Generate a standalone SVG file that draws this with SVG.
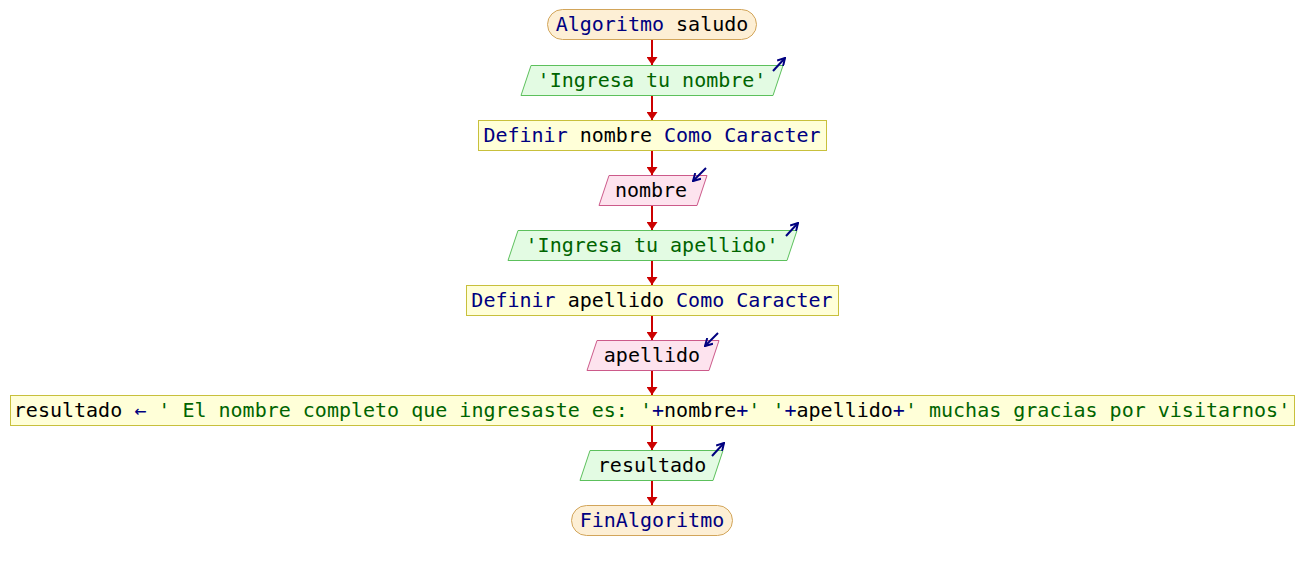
<svg xmlns="http://www.w3.org/2000/svg" width="1304" height="570" viewBox="0 0 1304 570">
  <defs>
    <marker id="ah" viewBox="0 0 10 10" refX="10" refY="5" markerWidth="4" markerHeight="5.5" orient="auto" markerUnits="strokeWidth" preserveAspectRatio="none">
      <path d="M0,0 L10,5 L0,10 z" fill="#cc0000"/>
    </marker>
    <marker id="io" viewBox="0 0 10 10" refX="9" refY="5" markerWidth="4.5" markerHeight="4.5" orient="auto" markerUnits="strokeWidth">
      <path d="M1,0.5 L9,5 L1,9.5" fill="none" stroke="#000080" stroke-width="2.2" stroke-linejoin="miter"/>
    </marker>
    <style>
      text { font-family: "DejaVu Sans Mono", "Liberation Mono", monospace; font-size: 20px; text-anchor: middle; fill: #000000; }
      .kw { fill: #000080; }
      .str { fill: #006400; }
      .term { fill: #fdefd5; stroke: #d2a55a; stroke-width: 1; }
      .out { fill: #e3fbe3; stroke: #5cc05c; stroke-width: 1; }
      .in { fill: #fde3ee; stroke: #cc5a8a; stroke-width: 1; }
      .proc { fill: #ffffd8; stroke: #c8c03c; stroke-width: 1; }
      .flow { stroke: #cc0000; stroke-width: 2; fill: none; marker-end: url(#ah); }
      .icon { stroke: #000080; stroke-width: 2; fill: none; marker-end: url(#io); }
    </style>
  </defs>
  <rect width="1304" height="570" fill="#ffffff"/>

  <g id="connectors">
    <line class="flow" x1="652" y1="39.5" x2="652" y2="65"/>
    <line class="flow" x1="652" y1="95" x2="652" y2="120"/>
    <line class="flow" x1="652" y1="150" x2="652" y2="175"/>
    <line class="flow" x1="652" y1="205" x2="652" y2="230"/>
    <line class="flow" x1="652" y1="260" x2="652" y2="285"/>
    <line class="flow" x1="652" y1="315" x2="652" y2="340"/>
    <line class="flow" x1="652" y1="370" x2="652" y2="395"/>
    <line class="flow" x1="652" y1="425" x2="652" y2="450"/>
    <line class="flow" x1="652" y1="480" x2="652" y2="505"/>
  </g>

  <g id="start">
    <rect class="term" x="547.5" y="9.5" width="209" height="30" rx="15"/>
    <text x="652" y="31"><tspan class="kw">Algoritmo</tspan> saludo</text>
  </g>

  <g id="out-nombre">
    <polygon class="out" points="531,65.5 783,65.5 773,95.5 521,95.5"/>
    <line class="icon" x1="773" y1="71" x2="785" y2="58"/>
    <text x="652" y="87"><tspan class="str">'Ingresa tu nombre'</tspan></text>
  </g>

  <g id="def-nombre">
    <rect class="proc" x="478.5" y="120.5" width="348" height="30"/>
    <text x="652" y="142"><tspan class="kw">Definir</tspan> nombre <tspan class="kw">Como Caracter</tspan></text>
  </g>

  <g id="in-nombre">
    <polygon class="in" points="609,175.5 707,175.5 697,205.5 599,205.5"/>
    <line class="icon" x1="706" y1="168" x2="693" y2="181"/>
    <text x="651" y="197">nombre</text>
  </g>

  <g id="out-apellido">
    <polygon class="out" points="518,230.5 797,230.5 787,260.5 508,260.5"/>
    <line class="icon" x1="786" y1="236" x2="798" y2="223"/>
    <text x="652" y="252"><tspan class="str">'Ingresa tu apellido'</tspan></text>
  </g>

  <g id="def-apellido">
    <rect class="proc" x="466.5" y="285.5" width="372" height="30"/>
    <text x="652" y="307"><tspan class="kw">Definir</tspan> apellido <tspan class="kw">Como Caracter</tspan></text>
  </g>

  <g id="in-apellido">
    <polygon class="in" points="597,340.5 719,340.5 709,370.5 587,370.5"/>
    <line class="icon" x1="718" y1="333" x2="705" y2="346"/>
    <text x="652" y="362">apellido</text>
  </g>

  <g id="assign-resultado">
    <rect class="proc" x="10.5" y="395.5" width="1284" height="30"/>
    <text x="652" y="417">resultado <tspan class="kw">←</tspan> <tspan class="str">' El nombre completo que ingresaste es: '</tspan><tspan class="kw">+</tspan>nombre<tspan class="kw">+</tspan><tspan class="str">' '</tspan><tspan class="kw">+</tspan>apellido<tspan class="kw">+</tspan><tspan class="str">' muchas gracias por visitarnos'</tspan></text>
  </g>

  <g id="out-resultado">
    <polygon class="out" points="590,450.5 723,450.5 713,480.5 580,480.5"/>
    <line class="icon" x1="712" y1="456" x2="724" y2="443"/>
    <text x="652" y="472">resultado</text>
  </g>

  <g id="end">
    <rect class="term" x="571.5" y="505.5" width="161" height="30" rx="15"/>
    <text x="652" y="527"><tspan class="kw">FinAlgoritmo</tspan></text>
  </g>
</svg>
